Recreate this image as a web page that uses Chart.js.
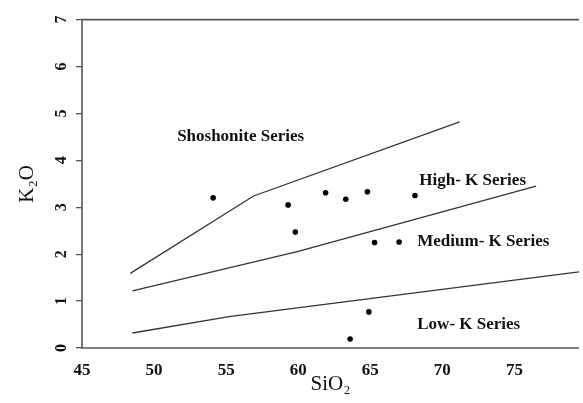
<!DOCTYPE html>
<html>
<head>
<meta charset="utf-8">
<script src="https://cdn.jsdelivr.net/npm/chart.js@4.4.0/dist/chart.umd.min.js"></script>
<style>
  body { margin: 0; background: #fff; }
  #wrap { width: 583px; height: 403px; overflow: hidden; }
</style>
</head>
<body>
<div id="wrap"><canvas id="myChart" width="583" height="403"></canvas></div>
<script>
// sample points (SiO2, K2O)
let sio2 = [54.1, 59.3, 61.9, 63.3, 64.8, 68.1, 59.8, 65.3, 67.0, 64.9, 63.6];
let k2o = [3.20, 3.05, 3.31, 3.17, 3.33, 3.25, 2.47, 2.25, 2.26, 0.77, 0.19];

// series boundary lines
let shoX = [48.35, 56.9, 71.2];
let shoY = [1.59, 3.24, 4.82];
let highX = [48.5, 60.0, 76.5];
let highY = [1.22, 2.06, 3.45];
let lowX = [48.5, 55.2, 79.5];
let lowY = [0.32, 0.67, 1.625];

// field labels
let fieldNames = ['Shoshonite Series', 'High- K Series', 'Medium- K Series', 'Low- K Series'];
let fieldX = [51.6, 68.4, 68.26, 68.26];
let fieldY = [4.5, 3.56, 2.27, 0.5];

let xTicks = [45, 50, 55, 60, 65, 70, 75];
let yTicks = [0, 1, 2, 3, 4, 5, 6, 7];

function toXY(xs, ys) {
  return xs.map((x, i) => ({ x: x, y: ys[i] }));
}

function boundary(xs, ys) {
  return {
    data: toXY(xs, ys),
    showLine: true,
    borderColor: '#333',
    borderWidth: 1.3,
    pointRadius: 0,
    fill: false
  };
}

// box round the plot + field names
let extras = {
  id: 'extras',
  afterDraw(chart) {
    let ctx = chart.ctx;
    let a = chart.chartArea;
    let xs = chart.scales.x, ys = chart.scales.y;
    ctx.save();
    ctx.strokeStyle = '#555';
    ctx.lineWidth = 1.6;
    ctx.beginPath();
    ctx.moveTo(a.right, a.top);
    ctx.lineTo(a.left, a.top);
    ctx.lineTo(a.left, a.bottom);
    ctx.lineTo(a.right, a.bottom);
    ctx.stroke();
    ctx.fillStyle = '#111';
    ctx.font = 'bold 17px "Liberation Serif", serif';
    ctx.textAlign = 'left';
    ctx.textBaseline = 'middle';
    fieldNames.forEach((name, i) => {
      ctx.fillText(name, xs.getPixelForValue(fieldX[i]), ys.getPixelForValue(fieldY[i]));
    });
    ctx.restore();
  }
};

let myChart = document.getElementById('myChart').getContext('2d');
let chart = new Chart(myChart, {
  type: 'scatter',
  data: {
    datasets: [
      boundary(shoX, shoY),
      boundary(highX, highY),
      boundary(lowX, lowY),
      {
        data: toXY(sio2, k2o),
        pointRadius: 2.8,
        pointBackgroundColor: '#000',
        pointBorderWidth: 0,
        showLine: false
      }
    ]
  },
  options: {
    responsive: false,
    animation: false,
    layout: { padding: { top: 12, left: 0, right: 0, bottom: 0 } },
    plugins: { legend: { display: false }, tooltip: { enabled: false } },
    scales: {
      x: {
        type: 'linear',
        min: 45,
        max: 79.48,
        afterBuildTicks: (scale) => { scale.ticks = xTicks.map(v => ({ value: v })); },
        afterFit: (scale) => { scale.height = 55; },
        grid: { display: false, drawTicks: false },
        border: { display: false },
        ticks: {
          padding: 12,
          color: '#111',
          font: { family: '"Liberation Serif", serif', size: 17, weight: 'bold' }
        },
        title: {
          display: true,
          text: 'SiO₂',
          color: '#111',
          padding: { top: 0, bottom: 6 },
          font: { family: '"Liberation Serif", serif', size: 21 }
        }
      },
      y: {
        min: 0,
        max: 7,
        afterBuildTicks: (scale) => { scale.ticks = yTicks.map(v => ({ value: v })); },
        afterFit: (scale) => { scale.width = 82; },
        grid: { drawOnChartArea: false, drawTicks: true, tickLength: 6, color: '#555', lineWidth: 1.3 },
        border: { display: false },
        ticks: {
          minRotation: 90,
          maxRotation: 90,
          crossAlign: 'center',
          padding: 10,
          color: '#111',
          font: { family: '"Liberation Serif", serif', size: 16, weight: 'bold' }
        },
        title: {
          display: true,
          text: 'K₂O',
          color: '#111',
          padding: { top: 15, bottom: 0 },
          font: { family: '"Liberation Serif", serif', size: 21 }
        }
      }
    }
  },
  plugins: [extras]
});
</script>
</body>
</html>
